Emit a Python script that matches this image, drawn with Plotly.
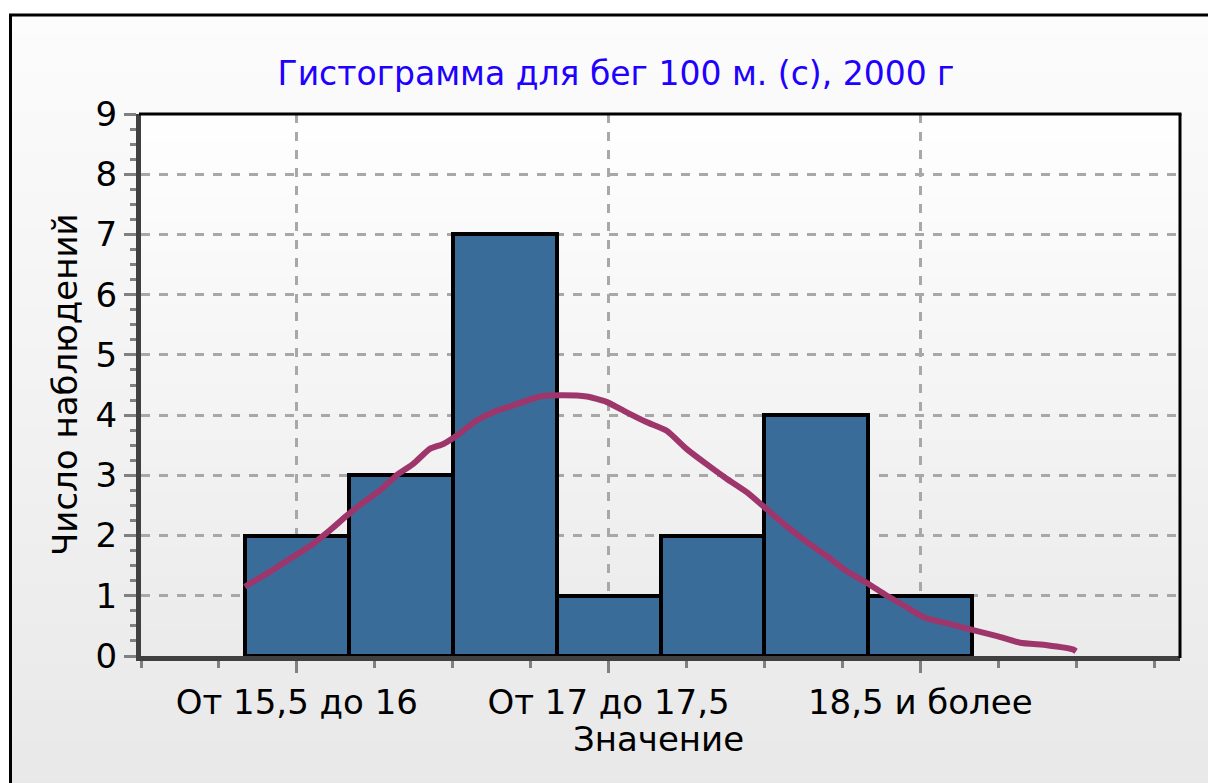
import plotly.graph_objects as go

# ---------------- data ----------------
categories = ["От 15,5 до 16", "От 16 до 16,5", "От 16,5 до 17", "От 17 до 17,5",
              "От 17,5 до 18", "От 18 до 18,5", "18,5 и более"]
bin_starts = [15.5, 16.0, 16.5, 17.0, 17.5, 18.0, 18.5]
bin_width = 0.5
counts = [2, 3, 7, 1, 2, 4, 1]

# fitted normal curve (seconds, expected count)
curve_x = [15.50, 15.62, 15.715, 15.815, 15.91, 15.99, 16.07, 16.15, 16.23, 16.31,
           16.39, 16.455, 16.52, 16.615, 16.71, 16.79, 16.92, 17.025, 17.145, 17.24,
           17.335, 17.435, 17.53, 17.625, 17.72, 17.82, 17.915, 18.01, 18.105, 18.205,
           18.30, 18.395, 18.49, 18.59, 18.675, 18.77, 18.895, 19.005, 19.12, 19.23,
           19.36, 19.485, 19.50]
curve_y = [1.15, 1.40, 1.61, 1.83, 2.09, 2.33, 2.55, 2.75, 3.00, 3.19,
           3.44, 3.52, 3.66, 3.91, 4.07, 4.16, 4.31, 4.33, 4.31, 4.22,
           4.05, 3.88, 3.74, 3.44, 3.19, 2.94, 2.72, 2.44, 2.16, 1.89,
           1.66, 1.41, 1.22, 1.00, 0.83, 0.64, 0.53, 0.43, 0.33, 0.22,
           0.18, 0.11, 0.08]

label_every = 3
title_text = "Гистограмма для бег 100 м. (с), 2000 г"
x_title = "Значение"
y_title = "Число наблюдений"

# ---------------- figure geometry ----------------
W, H = 1208, 783
ML, MR, MT, MB = 141, 28, 114, 127
PW, PH = W - ML - MR, H - MT - MB


def px(x):
    return (x - ML) / PW


def py(y):
    return (H - MB - y) / PH


FONT = "DejaVu Sans"
FS = 34
FS_TITLE = 33

centers = [s + bin_width / 2 for s in bin_starts]
tick_vals = centers[::label_every]
tick_text = categories[::label_every]

fig = go.Figure()
fig.add_trace(go.Bar(
    x=centers, y=counts, width=bin_width,
    marker=dict(color="#3A6C9A", line=dict(color="black", width=4)),
    hoverinfo="skip",
))
fig.add_trace(go.Scatter(
    x=curve_x, y=curve_y, mode="lines",
    line=dict(color="#9E366C", width=6, shape="spline", smoothing=0.5),
    hoverinfo="skip",
))

shapes = []


def grad_strips(x0, x1, y0, y1, c0, c1, n=40):
    out = []
    for i in range(n):
        t = i / (n - 1)
        c = round(c0 + (c1 - c0) * t)
        ya = y0 + (y1 - y0) * i / n
        yb = y0 + (y1 - y0) * (i + 1) / n + 1
        out.append(dict(type="rect", xref="paper", yref="paper",
                        x0=px(x0), x1=px(x1), y0=py(ya), y1=py(yb),
                        line=dict(width=0), fillcolor=f"rgb({c},{c},{c})",
                        layer="below"))
    return out


shapes += grad_strips(10, 1260, 14, 800, 252, 232)
shapes += grad_strips(ML, W - MR, MT, H - MB, 254, 235)
# outer frame
shapes.append(dict(type="rect", xref="paper", yref="paper",
                   x0=px(10.5), x1=px(1260), y0=py(15), y1=py(820),
                   line=dict(color="black", width=3), fillcolor="rgba(0,0,0,0)",
                   layer="above"))
# plot top & right borders
shapes.append(dict(type="line", xref="paper", yref="paper",
                   x0=px(ML - 2), x1=px(W - MR + 1.5), y0=1, y1=1,
                   line=dict(color="black", width=3), layer="above"))
shapes.append(dict(type="line", xref="paper", yref="paper",
                   x0=1, x1=1, y0=py(H - MB + 2), y1=1,
                   line=dict(color="black", width=3), layer="above"))

fig.update_layout(
    width=W, height=H,
    margin=dict(l=ML, r=MR, t=MT, b=MB, pad=0),
    paper_bgcolor="white",
    plot_bgcolor="rgba(0,0,0,0)",
    showlegend=False,
    bargap=0,
    shapes=shapes,
    font=dict(family=FONT, size=FS, color="black"),
    title=dict(text=title_text, font=dict(family=FONT, size=FS_TITLE, color="#2000FF"),
               xref="paper", x=px(616), xanchor="center",
               yref="container", y=1 - 73 / H, yanchor="middle"),
    annotations=[
        dict(text=y_title, textangle=-90, xref="paper", yref="paper",
             x=px(65), y=0.5, xanchor="center", yanchor="middle",
             showarrow=False, font=dict(family=FONT, size=FS, color="black")),
        dict(text=x_title, xref="paper", yref="paper",
             x=px(658), y=py(739), xanchor="center", yanchor="middle",
             showarrow=False, font=dict(family=FONT, size=FS, color="black")),
    ],
)

fig.update_xaxes(
    range=[15, 20], tickmode="array", tickvals=tick_vals, ticktext=tick_text,
    showline=True, linecolor="#404040", linewidth=5,
    ticks="outside", ticklen=12, tickwidth=3, tickcolor="#808080",
    showgrid=True, gridcolor="#A8A8A8", gridwidth=3, griddash="9px,9px",
    zeroline=False,
    minor=dict(tick0=centers[0], dtick=bin_width * label_every / 4, ticks="outside",
               ticklen=7, tickwidth=3, tickcolor="#808080", showgrid=False),
    tickfont=dict(family=FONT, size=FS, color="black"),
    fixedrange=True,
)
fig.update_yaxes(
    range=[0, 9], dtick=1, tick0=0,
    showline=True, linecolor="#404040", linewidth=5,
    ticks="outside", ticklen=12, tickwidth=3, tickcolor="#808080",
    showgrid=True, gridcolor="#A8A8A8", gridwidth=3, griddash="9px,9px",
    zeroline=False,
    minor=dict(dtick=0.25, ticks="outside", ticklen=6, tickwidth=3,
               tickcolor="#808080", showgrid=False),
    tickfont=dict(family=FONT, size=FS, color="black"),
    fixedrange=True,
)

fig.write_html("out.html",
               config={"displayModeBar": False},
               post_script="document.body.style.margin='0';document.body.style.overflow='hidden';")
